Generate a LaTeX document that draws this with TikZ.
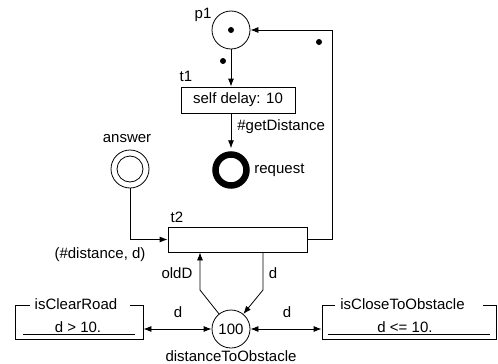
\documentclass[tikz,border=0pt]{standalone}
\usepackage{fontspec}
\setmainfont{Liberation Sans}
\usetikzlibrary{arrows.meta,calc}
\begin{document}
\begin{tikzpicture}[x=1pt,y=-1pt,
  font=\fontsize{15}{18}\selectfont,
  line width=0.8pt,
  >={Latex[length=8pt,width=6pt]},
  place/.style={circle,draw,minimum size=38pt,inner sep=0pt},
  trans/.style={rectangle,draw,inner sep=0pt},
  lbl/.style={inner sep=0pt},
  tok/.style={circle,fill,inner sep=0pt,minimum size=6pt},
  gap/.style={fill=white,inner sep=0pt,minimum height=8pt}]
\useasboundingbox (0,0) rectangle (498,364);
% p1
\node[place] (p1) at (231,30) {};
\node[tok] (p1tok) at (p1.center) {};
\node[lbl] (p1l) at (203,15) {p1};
% t1
\node[trans,minimum width=114pt,minimum height=26pt] (t1) at (238,100) {self delay: 10};
\node[lbl] (t1l) at (186,76) {t1};
\draw[->] (p1.south) -- (p1.south |- t1.north);
\node[tok] (tk1) at (223,61) {};
% request
\node[circle,draw,line width=6.5pt,minimum size=31pt,inner sep=0pt] (req) at (231,170) {};
\node[lbl,anchor=west] (reql) at (254,170) {request};
\draw[->,shorten >=3pt] (p1.south |- t1.south) -- (req.north);
\node[lbl,anchor=west] (gd) at (237,127) {\#getDistance};
% answer
\node[place] (ans) at (130,169) {};
\node[circle,draw,minimum size=26pt,inner sep=0pt] (ansin) at (ans.center) {};
\node[lbl] (ansl) at (127,139) {answer};
% t2
\node[trans,minimum width=139pt,minimum height=25pt] (t2) at (237.5,239.5) {};
\node[lbl] (t2l) at (177,217) {t2};
\draw[->] (ans.south) |- (t2.west);
\node[lbl] (dl) at (100,255) {(\#distance, d)};
\coordinate (c1) at (332,239.5);
\draw[->] (t2.east) -- (c1) |- (p1.east);
\node[tok] (tk2) at (319,42) {};
% distanceToObstacle
\node[place] (dist) at (231,329) {100};
\node[lbl] (distl) at (231,356) {distanceToObstacle};
\coordinate (k1) at (200,290);
\coordinate (k2) at (263,290);
\draw[->] (dist) -- (k1) -- (k1 |- t2.south);
\draw[->] (k2 |- t2.south) -- (k2) -- (dist);
\node[lbl] (oldl) at (177,273) {oldD};
\node[lbl] (dl2) at (273,273) {d};
% isClearRoad
\node[trans,minimum width=128pt,minimum height=34pt] (cr) at (79,322) {};
\node[gap,minimum width=100pt] (crgap) at (80,305) {};
\node[lbl] (crt) at (76,304) {isClearRoad};
\node[lbl] (crc) at (78,327) {d > 10.};
\draw (23,334) -- (135,334);
% isCloseToObstacle
\node[trans,minimum width=174pt,minimum height=34pt] (co) at (409,322) {};
\node[gap,minimum width=148pt] (cogap) at (409,305) {};
\node[lbl] (cot) at (402.5,304) {isCloseToObstacle};
\node[lbl] (coc) at (405,327) {d <= 10.};
\draw (328,334) -- (490,334);
% double arrows
\draw[<->] (cr.east |- dist) -- (dist.west);
\draw[<->] (dist.east) -- (co.west |- dist);
\node[lbl] (da) at (178,312) {d};
\node[lbl] (db) at (287,312) {d};
\end{tikzpicture}
\end{document}
